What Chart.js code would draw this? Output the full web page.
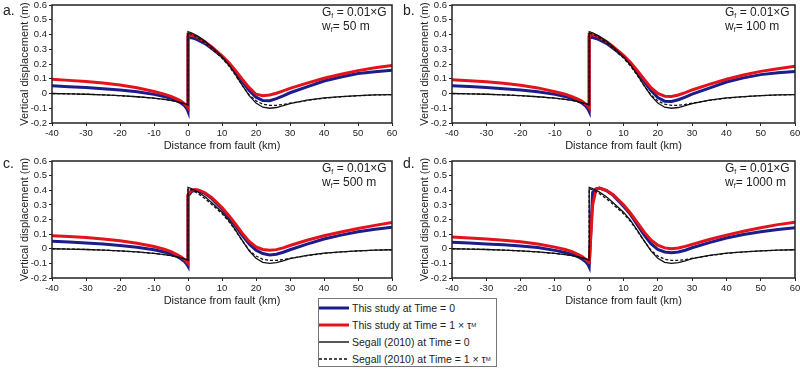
<!DOCTYPE html>
<html>
<head>
<meta charset="utf-8">
<script src="https://cdn.jsdelivr.net/npm/chart.js@4.4.0/dist/chart.umd.min.js"></script>
<style>
    body { margin: 0; background: #fff; font-family: 'Liberation Sans', Arial, sans-serif; color: #222; }
    #wrap { position: relative; width: 800px; height: 371px; overflow: hidden; }
    canvas { position: absolute; }
    .tag { position: absolute; font-size: 14px; line-height: 16px; }
    .note { position: absolute; font-size: 12px; line-height: 13.5px; white-space: nowrap; }
    .note sub { font-size: 7px; vertical-align: -2px; line-height: 0; }
    #legend { position: absolute; left: 318px; top: 298px; width: 177px; height: 67px; border: 1px solid #777; background: #fff; }
    #legend .row { display: flex; align-items: center; height: 17px; font-size: 10.5px; white-space: nowrap; }
    #legend svg { flex: none; margin-right: 3px; }
    #legend sub { font-size: 6px; vertical-align: -2px; line-height: 0; }
</style>
</head>
<body>
<div id="wrap">
    <canvas id="chartA" width="400" height="160" style="left:0;top:0"></canvas>
    <canvas id="chartB" width="400" height="160" style="left:400px;top:0"></canvas>
    <canvas id="chartC" width="400" height="159" style="left:0;top:156px"></canvas>
    <canvas id="chartD" width="400" height="159" style="left:400px;top:156px"></canvas>

    <div class="tag" style="left:3px;top:2px">a.</div>
    <div class="tag" style="left:403px;top:2px">b.</div>
    <div class="tag" style="left:3px;top:155px">c.</div>
    <div class="tag" style="left:403px;top:155px">d.</div>

    <div class="note" style="left:322px;top:6px">G<sub>f</sub> = 0.01×G<br>w<sub>f</sub>= 50 m</div>
    <div class="note" style="left:725px;top:6px">G<sub>f</sub> = 0.01×G<br>w<sub>f</sub>= 100 m</div>
    <div class="note" style="left:322px;top:162px">G<sub>f</sub> = 0.01×G<br>w<sub>f</sub>= 500 m</div>
    <div class="note" style="left:725px;top:162px">G<sub>f</sub> = 0.01×G<br>w<sub>f</sub>= 1000 m</div>

    <div id="legend">
        <div class="row"><svg width="30" height="6"><line x1="0" y1="3" x2="30" y2="3" stroke="#1b1d8a" stroke-width="3"/></svg>This study at Time = 0</div>
        <div class="row"><svg width="30" height="6"><line x1="0" y1="3" x2="30" y2="3" stroke="#e3131b" stroke-width="3"/></svg>This study at Time = 1 × τ<sub>M</sub></div>
        <div class="row"><svg width="30" height="6"><line x1="0" y1="3" x2="30" y2="3" stroke="#111" stroke-width="1.4"/></svg>Segall (2010) at Time = 0</div>
        <div class="row"><svg width="30" height="6"><line x1="0" y1="3" x2="30" y2="3" stroke="#111" stroke-width="1.4" stroke-dasharray="3,2"/></svg>Segall (2010) at Time = 1 × τ<sub>M</sub></div>
    </div>
</div>
<script>
// distance from fault (km); 0 appears twice for the step at the fault
var xs = [-40, -35, -30, -25, -20, -15, -10, -7, -5, -3, -2, -1, -0.3, 0, 0, 1, 2, 3, 5, 7,
    10, 12, 14, 16, 18, 20, 22, 24, 26, 28, 30, 35, 40, 45, 50, 55, 60];

// Segall (2010), same in every panel
var segallT0 = [0, -0.002, -0.005, -0.009, -0.015, -0.022, -0.032, -0.04, -0.047, -0.057, -0.063, -0.069, -0.074, -0.077, 0.42, 0.412, 0.4, 0.387, 0.355, 0.315,
    0.25, 0.195, 0.128, 0.055, -0.015, -0.065, -0.093, -0.1, -0.095, -0.083, -0.068, -0.045, -0.03, -0.021, -0.015, -0.01, -0.007];
var segallT1 = [0, -0.002, -0.005, -0.009, -0.015, -0.022, -0.032, -0.04, -0.047, -0.057, -0.063, -0.069, -0.074, -0.077, 0.41, 0.403, 0.39, 0.376, 0.343, 0.303,
    0.24, 0.188, 0.123, 0.053, -0.01, -0.05, -0.072, -0.08, -0.08, -0.074, -0.066, -0.047, -0.032, -0.022, -0.015, -0.01, -0.007];

// this study, w_f = 50 m
var studyT0_50 = [0.052, 0.046, 0.04, 0.032, 0.024, 0.012, -0.006, -0.02, -0.033, -0.052, -0.065, -0.083, -0.105, -0.122, 0.38, 0.378, 0.372, 0.362, 0.338, 0.305,
    0.25, 0.202, 0.145, 0.08, 0.02, -0.025, -0.048, -0.049, -0.035, -0.016, 0.005, 0.045, 0.085, 0.112, 0.135, 0.148, 0.157];
var studyT1_50 = [0.097, 0.089, 0.081, 0.071, 0.058, 0.039, 0.013, -0.004, -0.02, -0.04, -0.053, -0.07, -0.085, -0.095, 0.4, 0.397, 0.39, 0.378, 0.35, 0.315,
    0.255, 0.21, 0.155, 0.095, 0.04, -0.005, -0.015, -0.01, 0.002, 0.018, 0.035, 0.07, 0.103, 0.13, 0.155, 0.174, 0.19];

// w_f = 100 m
var studyT0_100 = [0.053, 0.047, 0.041, 0.033, 0.024, 0.012, -0.006, -0.02, -0.034, -0.053, -0.066, -0.085, -0.107, -0.122, 0.38, 0.379, 0.373, 0.363, 0.34, 0.307,
    0.252, 0.204, 0.147, 0.082, 0.02, -0.028, -0.052, -0.054, -0.042, -0.024, -0.004, 0.037, 0.078, 0.106, 0.128, 0.14, 0.15];
var studyT1_100 = [0.094, 0.087, 0.079, 0.069, 0.056, 0.038, 0.012, -0.005, -0.021, -0.042, -0.055, -0.072, -0.087, -0.097, 0.4, 0.398, 0.392, 0.38, 0.353, 0.318,
    0.258, 0.212, 0.157, 0.097, 0.04, 0, -0.018, -0.02, -0.01, 0.006, 0.024, 0.062, 0.097, 0.125, 0.15, 0.168, 0.184];

// w_f = 500 m
var studyT0_500 = [0.051, 0.046, 0.04, 0.032, 0.022, 0.01, -0.007, -0.022, -0.035, -0.056, -0.07, -0.088, -0.108, -0.12, 0.36, 0.39, 0.4, 0.398, 0.378, 0.343,
    0.272, 0.217, 0.155, 0.09, 0.032, -0.01, -0.033, -0.042, -0.037, -0.024, -0.007, 0.032, 0.067, 0.093, 0.116, 0.133, 0.147];
var studyT1_500 = [0.089, 0.083, 0.077, 0.067, 0.055, 0.038, 0.015, -0.003, -0.02, -0.043, -0.057, -0.075, -0.092, -0.1, 0.37, 0.398, 0.405, 0.402, 0.383, 0.35,
    0.282, 0.228, 0.168, 0.105, 0.05, 0.013, -0.005, -0.011, -0.006, 0.006, 0.022, 0.058, 0.089, 0.115, 0.138, 0.16, 0.18];

// w_f = 1000 m
var studyT0_1000 = [0.044, 0.039, 0.033, 0.027, 0.019, 0.008, -0.011, -0.025, -0.038, -0.058, -0.072, -0.09, -0.11, -0.125, -0.125, 0.385, 0.41, 0.415, 0.398, 0.365,
    0.29, 0.235, 0.165, 0.095, 0.035, -0.005, -0.022, -0.027, -0.022, -0.01, 0.007, 0.042, 0.073, 0.097, 0.116, 0.132, 0.144];
var studyT1_1000 = [0.08, 0.074, 0.067, 0.058, 0.048, 0.033, 0.011, -0.005, -0.02, -0.042, -0.055, -0.072, -0.09, -0.1, -0.105, 0.3, 0.405, 0.415, 0.4, 0.37,
    0.3, 0.245, 0.18, 0.115, 0.06, 0.025, 0.006, 0, 0.005, 0.016, 0.03, 0.063, 0.093, 0.12, 0.144, 0.165, 0.182];

var blue = '#1b1d8a';
var red = '#e3131b';
var ink = '#222';
var tickFont = { family: "'Liberation Sans', Arial, sans-serif", size: 9.5 };
var titleFont = { family: "'Liberation Sans', Arial, sans-serif", size: 11 };

function toPoints(ys) {
    return xs.map(function (x, i) { return { x: x, y: ys[i] }; });
}

// box around the plot area
var framePlugin = {
    id: 'frame',
    afterDatasetsDraw: function (chart) {
        var a = chart.chartArea;
        var ctx = chart.ctx;
        ctx.save();
        ctx.strokeStyle = ink;
        ctx.lineWidth = 1.5;
        ctx.strokeRect(a.left, a.top, a.right - a.left, a.bottom - a.top);
        ctx.restore();
    }
};

function buildPanel(id, t0, t1, rightPad) {
    var ctx = document.getElementById(id);
    return new Chart(ctx, {
        type: 'line',
        data: {
            datasets: [
                { data: toPoints(segallT1), borderColor: '#111', borderWidth: 1.3, borderDash: [3, 2] },
                { data: toPoints(segallT0), borderColor: '#111', borderWidth: 1.3 },
                { data: toPoints(t1), borderColor: red, borderWidth: 3 },
                { data: toPoints(t0), borderColor: blue, borderWidth: 3 }
            ]
        },
        options: {
            responsive: false,
            animation: false,
            devicePixelRatio: 1,
            layout: { padding: { left: 0, top: 5, right: rightPad, bottom: 0 } },
            elements: {
                point: { radius: 0 },
                line: { tension: 0, fill: false, borderCapStyle: 'butt' }
            },
            plugins: { legend: { display: false }, tooltip: { enabled: false } },
            scales: {
                x: {
                    type: 'linear',
                    min: -40,
                    max: 60,
                    border: { display: false },
                    grid: { drawOnChartArea: false, drawTicks: true, tickLength: 3, color: ink },
                    ticks: { stepSize: 10, color: ink, font: tickFont, padding: 2, maxRotation: 0, autoSkip: false },
                    title: { display: true, text: 'Distance from fault (km)', color: ink, font: titleFont, padding: { top: 0, bottom: 7.7 } },
                    afterFit: function (scale) {
                        scale.height = 37;
                        scale.paddingLeft = 0;
                        scale.paddingRight = 0;
                    }
                },
                y: {
                    min: -0.2,
                    max: 0.6,
                    border: { display: false },
                    grid: { drawOnChartArea: false, drawTicks: true, tickLength: 3, color: ink },
                    ticks: {
                        stepSize: 0.1,
                        color: ink,
                        font: tickFont,
                        padding: 2,
                        callback: function (v) { return String(Math.round(v * 10) / 10); }
                    },
                    title: { display: true, text: 'Vertical displacement (m)', color: ink, font: titleFont, padding: { top: 18.4, bottom: 0 } },
                    afterFit: function (scale) {
                        scale.width = 52;
                        scale.paddingTop = 0;
                        scale.paddingBottom = 0;
                    }
                }
            }
        },
        plugins: [framePlugin]
    });
}

buildPanel('chartA', studyT0_50, studyT1_50, 8);
buildPanel('chartB', studyT0_100, studyT1_100, 5);
buildPanel('chartC', studyT0_500, studyT1_500, 8);
buildPanel('chartD', studyT0_1000, studyT1_1000, 5);
</script>
</body>
</html>
